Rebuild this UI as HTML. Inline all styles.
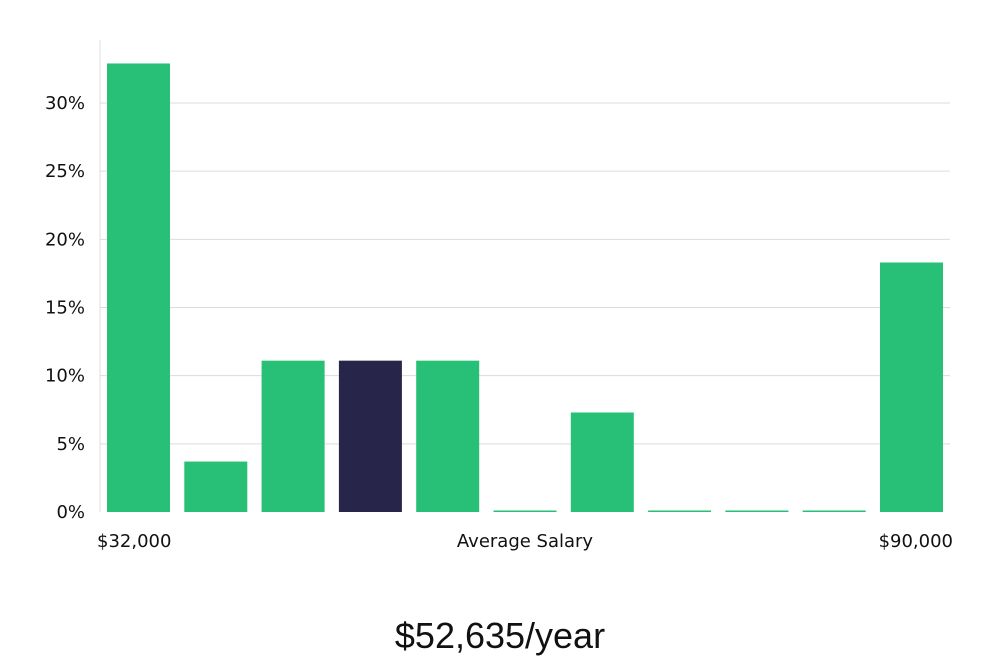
<!DOCTYPE html>
<html><head><meta charset="utf-8"><style>
body{margin:0;background:#fff;width:1000px;height:660px;overflow:hidden;font-family:"Liberation Sans","DejaVu Sans",sans-serif}
svg text{font-family:"DejaVu Sans","Liberation Sans",sans-serif}
</style></head><body>
<svg id="chart" width="1000" height="660" xmlns="http://www.w3.org/2000/svg">
<g id="grid"></g>
<g id="bars"></g>
<g id="ylabels"></g>
<line x1="100" y1="40" x2="100" y2="512" stroke="#dddddd" stroke-width="1"/>
<text x="97" y="547" font-size="18" fill="#111">$32,000</text>
<text x="525" y="547" font-size="18" fill="#111" text-anchor="middle">Average Salary</text>
<text x="953" y="547" font-size="18" fill="#111" text-anchor="end">$90,000</text>
<text x="500" y="648" font-size="36" fill="#111" text-anchor="middle" style="font-family:'Liberation Sans',sans-serif;font-weight:300">$52,635/year</text>
</svg>
<script>
const categories=["b1","b2","b3","b4","b5","b6","b7","b8","b9","b10","b11"];
const values=[32.9,3.7,11.1,11.1,11.1,0,7.3,0,0,0,18.3];
const highlightIndex=3;
const yTicks=[0,5,10,15,20,25,30];
const yTickLabels=["0%","5%","10%","15%","20%","25%","30%"];
const ns="http://www.w3.org/2000/svg";
function y(v){return 512-v*(409/30);}
function x(i){return 107+i*77.3;}
const bw=63;
const grid=document.getElementById('grid'),yl=document.getElementById('ylabels'),bars=document.getElementById('bars');
yTicks.forEach((t,i)=>{
 if(t>0){const l=document.createElementNS(ns,'line');
 
 
 l.setAttribute('x1',100);l.setAttribute('x2',950);l.setAttribute('y1',y(t));l.setAttribute('y2',y(t));
 l.setAttribute('stroke','#dcdcdc');grid.appendChild(l);}
 const tx=document.createElementNS(ns,'text');
 
 
 tx.setAttribute('x',85);tx.setAttribute('y',y(t)+6);tx.setAttribute('font-size','18');tx.setAttribute('text-anchor','end');tx.setAttribute('fill','#111');
 tx.textContent=yTickLabels[i];yl.appendChild(tx);
});
categories.forEach((c,i)=>{
 const v=values[i];const top=y(v);const h=Math.max(512-top,1.5);
 const r=document.createElementNS(ns,'rect');
 
 
 r.setAttribute('x',x(i));r.setAttribute('y',512-h);r.setAttribute('width',bw);r.setAttribute('height',h);
 r.setAttribute('fill',i===highlightIndex?'#28254a':'#28bf77');
 bars.appendChild(r);
});
</script>
</body></html>
